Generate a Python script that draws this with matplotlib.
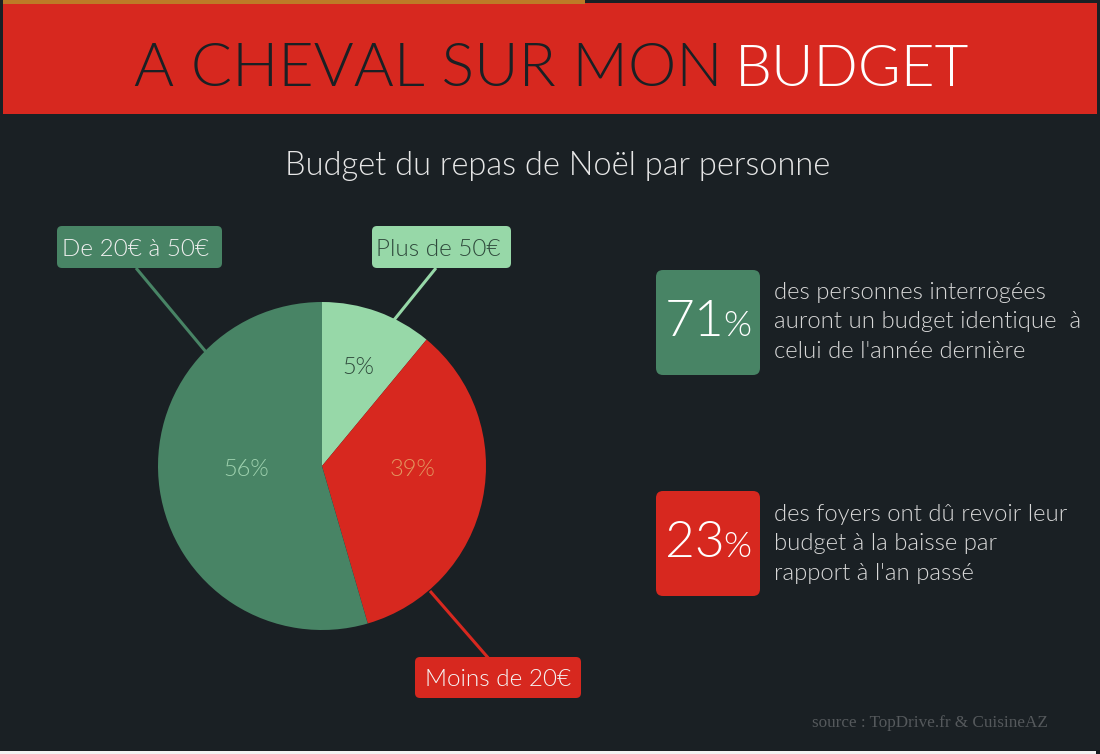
import matplotlib
matplotlib.use("Agg")
import matplotlib.pyplot as plt
from matplotlib.patches import FancyBboxPatch, Rectangle

# slice sizes as drawn in the picture (they do not follow the printed percents)
slice_names = ["Plus de 50€", "Moins de 20€", "De 20€ à 50€"]
slice_sizes = [11.0, 34.5, 54.5]
slice_labels = ["5%", "39%", "56%"]

stat_values = ["71", "23"]
stat_texts = [
    "des personnes interrogées\nauront un budget identique  à\ncelui de l'année dernière",
    "des foyers ont dû revoir leur\nbudget à la baisse par\nrapport à l'an passé",
]

BG = "#1a2024"
RED = "#d7281f"
GREEN = "#488465"
LIGHT = "#97d8a8"
ORANGE = "#bd7a27"
TXT = "#e6e6e6"
LW = 300  # Lato Light, "light" in matplotlib lands on the thin cut

plt.rcParams["font.family"] = ["Lato", "DejaVu Sans"]

fig = plt.figure(figsize=(11, 7.54), dpi=100, facecolor=BG)

# ---------------- OVERLAY IN PIXELS ----------------
ax = fig.add_axes([0, 0, 1, 1], zorder=1)
ax.set_xlim(0, 1100)
ax.set_ylim(754, 0)
ax.axis("off")

ax.add_patch(Rectangle((3, 3), 1094, 111, fc=RED, ec="none"))
ax.add_patch(Rectangle((3, 0), 582, 3.5, fc=ORANGE, ec="none"))
ax.add_patch(Rectangle((0, 750.5), 1096, 4, fc="#f2f2f2", ec="none"))

ax.text(134, 86, "A CHEVAL SUR MON", color=BG, fontsize=44, weight=LW, va="baseline", ha="left")
ax.text(735, 86, "BUDGET", color="white", fontsize=42, weight=LW, va="baseline", ha="left")

ax.text(558, 166, "Budget du repas de Noël par personne", color=TXT, fontsize=23.5,
        weight=LW, va="center", ha="center")


def round_box(x0, y0, x1, y1, color, pad=5):
    ax.add_patch(FancyBboxPatch((x0 + pad, y0 + pad), x1 - x0 - 2 * pad, y1 - y0 - 2 * pad,
                                boxstyle=f"round,pad={pad},rounding_size={pad}",
                                fc=color, ec="none"))


# ---------------- CALLOUTS ----------------
ax.plot([136, 206], [268, 352], color=GREEN, lw=2.2, solid_capstyle="butt")
ax.plot([436, 394], [268, 320], color=LIGHT, lw=2.2, solid_capstyle="butt")
ax.plot([430, 490], [591, 660], color=RED, lw=2.2, solid_capstyle="butt")

round_box(57, 226, 222, 268, GREEN)
round_box(372, 226, 511, 268, LIGHT)
round_box(415, 657, 581, 698, RED)
ax.text(136, 250, slice_names[2], color="#f0f0f0", fontsize=17.5, weight=LW, ha="center", va="center")
ax.text(438, 250, slice_names[0], color="#2f4a3c", fontsize=17.5, weight=LW, ha="center", va="center")
ax.text(498, 679, slice_names[1], color="#f5f5f5", fontsize=17.5, weight=LW, ha="center", va="center")

# ---------------- STAT BOXES ----------------
for val, txt, col, y0, dy in zip(stat_values, stat_texts, [GREEN, RED], [270, 491], [52, 53]):
    round_box(656, y0, 760, y0 + 105, col, pad=7)
    ax.text(695, y0 + 52, val, color="white", fontsize=37, weight=LW, ha="center", va="center")
    ax.text(737, y0 + 56, "%", color="white", fontsize=26, weight=LW, ha="center", va="center")
    ax.text(774, y0 + dy, txt, color="#d8d8d8", fontsize=17.2, weight=LW,
            ha="left", va="center", linespacing=1.52)

ax.text(1048, 723, "source : TopDrive.fr & CuisineAZ", color="#55595c", fontsize=12.3,
        family="Liberation Serif", ha="right", va="center")

# ---------------- PIE ----------------
pie_ax = fig.add_axes([158 / 1100, (754 - 630) / 754, 328 / 1100, 328 / 754], zorder=2)
pie_ax.patch.set_alpha(0)
pie_ax.pie(slice_sizes, colors=[LIGHT, RED, GREEN], startangle=90, counterclock=False,
           radius=1, wedgeprops={"linewidth": 0})
pie_ax.set_xlim(-1, 1)
pie_ax.set_ylim(-1, 1)


def to_pie(px, py):
    return (px - 322) / 164, (466 - py) / 164


label_colors = ["#2f4a3c", "#e3955f", "#9ed1ae"]
label_pos = [(358, 367), (413, 469), (246, 469)]
for lab, col, (px, py) in zip(slice_labels, label_colors, label_pos):
    x, y = to_pie(px, py)
    pie_ax.text(x, y, lab, color=col, fontsize=17, weight=LW, ha="center", va="center")

fig.savefig("out.png", dpi=100, facecolor=BG)
